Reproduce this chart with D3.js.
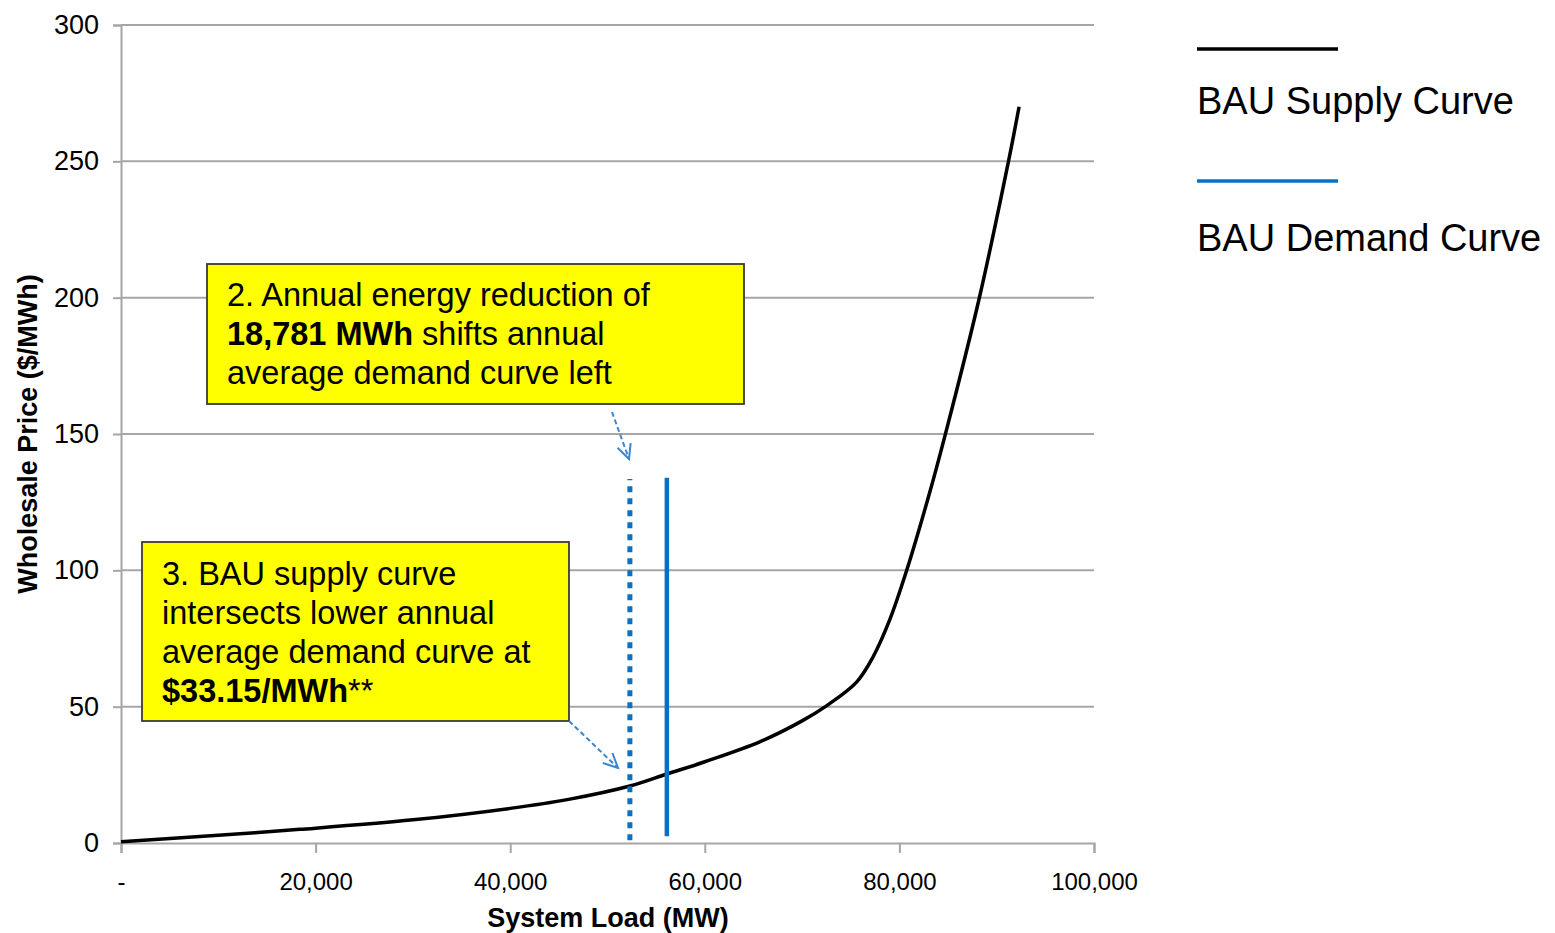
<!DOCTYPE html>
<html>
<head>
<meta charset="utf-8">
<script src="https://cdn.jsdelivr.net/npm/d3@7/dist/d3.min.js"></script>
<style>
  body { margin: 0; background: #fff; }
  svg text { font-family: "Liberation Sans", Arial, sans-serif; fill: #000; }
</style>
</head>
<body>
<div id="chart"></div>
<script>
// data

const supplyLoad  = [0, 10000, 18400, 30000, 40000, 46000, 52300, 56100, 60000, 65700, 70000, 72500, 75600, 77300, 79000, 80750, 83070, 84700, 88200, 91200, 92300];
const supplyPrice = [0.5, 2.8, 5.0, 8.5, 12.7, 16.0, 20.9, 25.3, 29.8, 37.2, 44.8, 50.3, 59.0, 68.3, 81.8, 100, 128, 149.6, 199.7, 249.8, 270];

// demand curves: [load, price bottom, price top]
const demandBAU     = [56100, 2.5, 134];
const demandReduced = [52300, 1, 133.5];

const xTicks = [0, 20000, 40000, 60000, 80000, 100000];
const yTicks = [0, 50, 100, 150, 200, 250, 300];

const legendLabels = ["BAU Supply Curve", "BAU Demand Curve"];

const note2 = [
  [["2. Annual energy reduction of", false]],
  [["18,781 MWh", true], [" shifts annual", false]],
  [["average demand curve left", false]]
];
const note3 = [
  [["3. BAU supply curve", false]],
  [["intersects lower annual", false]],
  [["average demand curve at", false]],
  [["$33.15/MWh", true], ["**", false]]
];

const W = 1555, H = 933;
const margin = {left: 121, right: 461, top: 25, bottom: 90};
const blue = "#0a70c2";
const arrowBlue = "#3a86d0";

const svg = d3.select("#chart").append("svg")
    .attr("width", W)
    .attr("height", H);

svg.append("rect").attr("width", W).attr("height", H).attr("fill", "#fff");

const x = d3.scaleLinear().domain([0, 100000]).range([margin.left, W - margin.right]);
const y = d3.scaleLinear().domain([0, 300]).range([H - margin.bottom, margin.top]);

// gridlines + y ticks
const yAxis = svg.append("g")
    .attr("transform", `translate(${margin.left},0)`)
    .call(d3.axisLeft(y).tickValues(yTicks).tickSize(8).tickPadding(14).tickFormat(d3.format("d")));
yAxis.select(".domain").attr("stroke", "#a6a6a6").attr("stroke-width", 2);
yAxis.selectAll(".tick line").attr("stroke", "#a6a6a6").attr("stroke-width", 2);
yAxis.selectAll(".tick text").style("font-size", "27px").attr("fill", "#1a1a1a");

svg.append("g").selectAll("line")
  .data(yTicks.filter(d => d > 0))
  .join("line")
    .attr("x1", x(0)).attr("x2", x(100000))
    .attr("y1", d => y(d)).attr("y2", d => y(d))
    .attr("stroke", "#a6a6a6").attr("stroke-width", 2);

const xAxis = svg.append("g")
    .attr("transform", `translate(0,${y(0)})`)
    .call(d3.axisBottom(x).tickValues(xTicks).tickSize(10).tickPadding(20)
      .tickFormat(d => d === 0 ? "-" : d3.format(",")(d)));
xAxis.select(".domain").attr("stroke", "#a6a6a6").attr("stroke-width", 2);
xAxis.selectAll(".tick line").attr("stroke", "#a6a6a6").attr("stroke-width", 2);
xAxis.selectAll(".tick text").style("font-size", "24px").attr("fill", "#1a1a1a");

// axis titles
svg.append("text")
    .attr("x", 608).attr("y", 927)
    .attr("text-anchor", "middle")
    .style("font-size", "27px").style("font-weight", "bold")
    .text("System Load (MW)");
svg.append("text")
    .attr("transform", "translate(37,434) rotate(-90)")
    .attr("text-anchor", "middle")
    .style("font-size", "27px").style("font-weight", "bold")
    .text("Wholesale Price ($/MWh)");

// supply curve
const line = d3.line()
    .x(i => x(supplyLoad[i]))
    .y(i => y(supplyPrice[i]))
    .curve(d3.curveCatmullRom.alpha(0.5));
svg.append("path")
    .attr("d", line(d3.range(supplyLoad.length)))
    .attr("fill", "none")
    .attr("stroke", "#000")
    .attr("stroke-width", 3.5);

// demand curves
svg.append("line")
    .attr("x1", x(demandReduced[0])).attr("x2", x(demandReduced[0]))
    .attr("y1", y(demandReduced[1])).attr("y2", y(demandReduced[2]))
    .attr("stroke", blue).attr("stroke-width", 5)
    .attr("stroke-dasharray", "6,6");
svg.append("line")
    .attr("x1", x(demandBAU[0])).attr("x2", x(demandBAU[0]))
    .attr("y1", y(demandBAU[1])).attr("y2", y(demandBAU[2]))
    .attr("stroke", blue).attr("stroke-width", 4.5);

// annotation boxes
function noteBox(lines, x0, y0, w, h, tx, ty) {
  const g = svg.append("g");
  g.append("rect")
      .attr("x", x0).attr("y", y0).attr("width", w).attr("height", h)
      .attr("fill", "#ffff00").attr("stroke", "#3a3a3a").attr("stroke-width", 1.8);
  lines.forEach((parts, i) => {
    const t = g.append("text")
        .attr("x", tx).attr("y", ty + i * 39)
        .style("font-size", "32.5px");
    parts.forEach(p => {
      t.append("tspan").style("font-weight", p[1] ? "bold" : "normal").text(p[0]);
    });
  });
}
noteBox(note2, 207, 264, 537, 140, 227, 306);
noteBox(note3, 142, 542, 427, 179, 162, 585);

// dashed arrows
function arrow(x1, y1, x2, y2) {
  svg.append("line")
      .attr("x1", x1).attr("y1", y1).attr("x2", x2).attr("y2", y2)
      .attr("stroke", arrowBlue).attr("stroke-width", 2)
      .attr("stroke-dasharray", "5,3");
  const a = Math.atan2(y2 - y1, x2 - x1);
  const len = 16, spread = 0.45;
  const pts = [
    [x2 - len * Math.cos(a - spread), y2 - len * Math.sin(a - spread)],
    [x2, y2],
    [x2 - len * Math.cos(a + spread), y2 - len * Math.sin(a + spread)]
  ];
  svg.append("path")
      .attr("d", d3.line()(pts))
      .attr("fill", "none").attr("stroke", arrowBlue).attr("stroke-width", 2);
}
arrow(612, 412, 629, 459);
arrow(569, 721, 618, 768);

// legend
const legendColors = ["#000", blue];
const legend = svg.append("g");
legendLabels.forEach((lab, i) => {
  const ly = 49 + i * 132;
  legend.append("line")
      .attr("x1", 1197).attr("x2", 1338)
      .attr("y1", ly).attr("y2", ly)
      .attr("stroke", legendColors[i]).attr("stroke-width", 3.5);
  legend.append("text")
      .attr("x", 1197).attr("y", ly + 65 + i * 5)
      .style("font-size", "38px")
      .text(lab);
});
</script>
</body>
</html>
